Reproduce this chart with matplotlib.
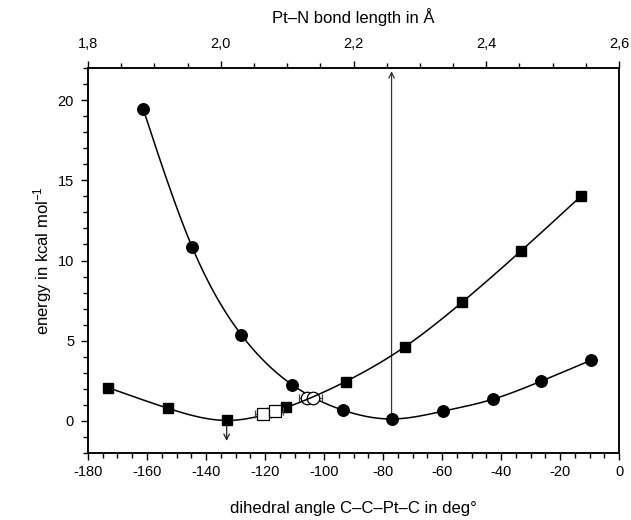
import numpy as np
import matplotlib
matplotlib.use("Agg")
import matplotlib.pyplot as plt
from matplotlib.ticker import MultipleLocator

plt.rcParams['font.family'] = ['Liberation Sans', 'DejaVu Sans']
plt.rcParams['mathtext.fontset'] = 'custom'
plt.rcParams['mathtext.rm'] = 'Liberation Sans'
plt.rcParams['mathtext.it'] = 'Liberation Sans'
plt.rcParams['axes.unicode_minus'] = False

# dihedral scan (circles), bottom axis in deg
dihedral = [-161.3, -144.7, -128.0, -110.7, -93.4, -77.1, -59.8, -42.8, -26.5, -9.5]
e_dihedral = [19.45, 10.84, 5.36, 2.24, 0.66, 0.12, 0.60, 1.35, 2.47, 3.78]

# Pt-N bond scan (squares), top axis in Angstrom
bond = [1.830, 1.921, 2.010, 2.099, 2.188, 2.277, 2.364, 2.453, 2.543]
e_bond = [2.08, 0.78, 0.03, 0.84, 2.45, 4.61, 7.41, 10.62, 14.02]

# open symbols with error bars
open_dihedral = [-105.6, -103.6]
open_dihedral_e = [1.40, 1.40]
open_dihedral_err = [3.0, 3.0]
open_bond = [2.063, 2.082]
open_bond_e = [0.42, 0.62]
open_bond_err = [0.012, 0.012]

top_ticks = [1.8, 2.0, 2.2, 2.4, 2.6]
top_labels = ["1,8", "2,0", "2,2", "2,4", "2,6"]


def spline(x, y, n=300):
    # natural cubic spline through the points
    x = np.asarray(x, float)
    y = np.asarray(y, float)
    k = len(x)
    h = np.diff(x)
    A = np.zeros((k, k))
    b = np.zeros(k)
    A[0, 0] = 1
    A[-1, -1] = 1
    for i in range(1, k - 1):
        A[i, i - 1] = h[i - 1]
        A[i, i] = 2 * (h[i - 1] + h[i])
        A[i, i + 1] = h[i]
        b[i] = 6 * ((y[i + 1] - y[i]) / h[i] - (y[i] - y[i - 1]) / h[i - 1])
    M = np.linalg.solve(A, b)
    xs = np.linspace(x[0], x[-1], n)
    idx = np.clip(np.searchsorted(x, xs) - 1, 0, k - 2)
    x0, x1 = x[idx], x[idx + 1]
    hh = x1 - x0
    t0 = x1 - xs
    t1 = xs - x0
    ys = (M[idx] * t0**3 + M[idx + 1] * t1**3) / (6 * hh) \
        + (y[idx] / hh - M[idx] * hh / 6) * t0 \
        + (y[idx + 1] / hh - M[idx + 1] * hh / 6) * t1
    return xs, ys


fig = plt.figure(figsize=(6.31, 5.2), dpi=100)
ax = fig.add_axes([88 / 631, 67 / 520, 531 / 631, 385 / 520])
ax2 = ax.twiny()

ax.set_xlim(-180, 0)
ax.set_ylim(-2, 22)
ax2.set_xlim(1.8, 2.6)

# curves
sx, sy = spline(dihedral, e_dihedral)
ax.plot(sx, sy, color='black', lw=1.1, zorder=2)
bx, by = spline(bond, e_bond)
ax2.plot(bx, by, color='black', lw=1.1, zorder=2)

# arrows
ax.annotate('', xy=(-133, -1.25), xytext=(-133, 0.0),
            arrowprops=dict(arrowstyle='->', color='#222222', lw=0.9, shrinkA=0, shrinkB=0))
ax.annotate('', xy=(-77.1, 21.8), xytext=(-77.1, 0.5),
            arrowprops=dict(arrowstyle='->', color='#333333', lw=0.9, shrinkA=0, shrinkB=0))

# markers
ax.plot(dihedral, e_dihedral, 'o', color='black', ms=8.3, zorder=4)
ax2.plot(bond, e_bond, 's', color='black', ms=7.8, zorder=4)
ax.errorbar(open_dihedral, open_dihedral_e, xerr=open_dihedral_err, fmt='o',
            mfc='white', mec='black', ecolor='#444444', ms=9, capsize=3,
            elinewidth=0.8, mew=0.9, zorder=5)
ax2.errorbar(open_bond, open_bond_e, xerr=open_bond_err, fmt='s',
             mfc='white', mec='black', ecolor='#444444', ms=8.5, capsize=3,
             elinewidth=0.8, mew=0.9, zorder=5)

# ticks and labels
ax.xaxis.set_major_locator(MultipleLocator(20))
ax.xaxis.set_minor_locator(MultipleLocator(5))
ax.yaxis.set_minor_locator(MultipleLocator(1))
ax.set_yticks([0, 5, 10, 15, 20])
ax.set_ylim(-2, 22)
ax.tick_params(axis='both', which='both', direction='out', top=False, right=False,
               labelsize=10.5, width=1.0)
ax.tick_params(which='major', length=5)
ax.tick_params(which='minor', length=3.5)
ax.tick_params(axis='y', which='major', pad=5)

ax2.set_xticks(top_ticks)
ax2.set_xticklabels(top_labels)
ax2.xaxis.set_minor_locator(MultipleLocator(0.05))
ax2.tick_params(axis='x', which='both', direction='out', labelsize=10.5, width=1.0, pad=7)
ax2.tick_params(which='major', length=5)
ax2.tick_params(which='minor', length=3.5)

for a in (ax, ax2):
    for s in a.spines.values():
        s.set_linewidth(1.1)

ax.set_xlabel('dihedral angle C\u2013C\u2013Pt\u2013C in deg\u00b0', fontsize=12, labelpad=16)
ax.set_ylabel('energy in kcal mol$^{\u2212\\mathregular{1}}$', fontsize=12, labelpad=3)
ax2.set_xlabel('Pt\u2013N bond length in \u00c5', fontsize=12, labelpad=10)

fig.savefig('out.png', dpi=100)
